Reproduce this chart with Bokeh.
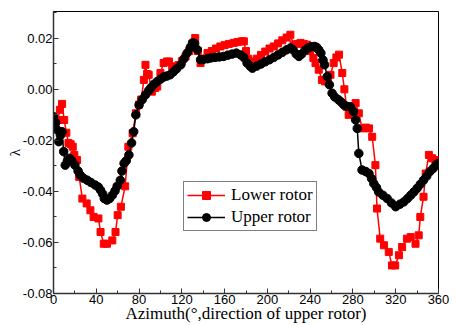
from bokeh.plotting import figure
from bokeh.models import FixedTicker, PrintfTickFormatter, Legend, LegendItem
from bokeh.embed import file_html
from bokeh.resources import INLINE

# ---- data ----
lower_az = [0, 2, 4, 6, 8, 10, 12, 14, 16, 18, 19.5, 22, 24, 27, 31, 34.5, 37.5, 42, 44, 47, 50, 55, 58, 60, 63, 67,
            70, 74, 77, 80, 82, 84.5, 86, 87.5, 89, 92, 95, 97, 100, 103, 106, 108, 111, 114, 117, 120, 123.5, 127,
            130, 132.5, 135, 137.5, 140, 144, 148, 152, 156, 160, 164, 168.5, 172, 176, 178, 180, 182, 186, 190, 194,
            198, 202, 206, 210, 214, 218, 221.5, 224.5, 228, 231, 234, 237, 240, 243, 245, 248, 251, 254, 256.5, 259,
            262, 264.5, 267, 270, 272, 274, 276, 279, 282.5, 285.5, 288.5, 292, 295, 298, 301, 302.5, 305.5, 309,
            313.5, 316.5, 319.5, 323, 326, 330.5, 334, 338.5, 341.5, 343, 346, 348, 351, 354, 357, 360]
lower_val = [-0.0127, -0.015, -0.012, -0.008, -0.0057, -0.012, -0.017, -0.021, -0.0215, -0.0225, -0.0257, -0.0277,
             -0.0343, -0.0428, -0.0447, -0.0474, -0.050, -0.0506, -0.0559, -0.0605, -0.0605, -0.0592, -0.0559,
             -0.0493, -0.046, -0.038, -0.0225, -0.0172, -0.0094, -0.006, -0.004, 0.0037, 0.0096, 0.006, 0.0057,
             -0.0009, 0.0005, 0.0011, 0.0064, 0.0103, 0.0109, 0.0109, 0.009, 0.0085, 0.0095, 0.011, 0.0129, 0.015,
             0.018, 0.0201, 0.015, 0.0103, 0.012, 0.0142, 0.015, 0.016, 0.0168, 0.0173, 0.0178, 0.0182, 0.0185,
             0.0188, 0.0188, 0.015, 0.012, 0.0109, 0.012, 0.0135, 0.0148, 0.016, 0.0168, 0.018, 0.0192, 0.0203,
             0.0214, 0.0175, 0.0178, 0.0182, 0.0178, 0.0175, 0.015, 0.0123, 0.0103, 0.0077, 0.0037, 0.0031, 0.0045,
             0.0057, 0.0103, 0.0125, 0.0136, 0.0064, 0.0, -0.0068, -0.0100, -0.0080, -0.0054, -0.0094, -0.0153,
             -0.0150, -0.0153, -0.0186, -0.0297, -0.0467, -0.0585, -0.0611, -0.0637, -0.069, -0.069, -0.065,
             -0.0618, -0.0585, -0.0579, -0.0605, -0.0572, -0.050, -0.0421, -0.033, -0.0257, -0.027, -0.0277, -0.029]

upper_az = [0, 2, 3.5, 5, 6.5, 8, 9.5, 11, 13, 15, 17, 20, 23, 25, 28, 31.5, 35, 39, 42, 44, 46, 47.5, 50, 52.5, 55,
            57.5, 59.5, 62.5, 64, 66, 68, 70.5, 73, 75, 77, 80, 83, 86, 89, 91, 94, 97, 100, 103, 106, 109, 112, 115,
            119, 122, 125, 128, 130, 132, 134.5, 137.5, 140, 144, 147, 151, 155, 159, 163, 167, 171, 175, 178, 181,
            184, 186, 190, 194, 198, 202, 206, 210, 214, 218, 221.5, 224, 227, 229.5, 232, 235, 238, 241, 244, 246,
            248, 250, 252, 253.5, 256, 258, 260.5, 263, 266.5, 269, 271.5, 274, 277.5, 280.5, 282.5, 284, 285.5,
            288.5, 292, 295, 297.5, 299.5, 302, 304, 308, 312, 316, 320, 324, 327.5, 331, 334, 337, 340, 343, 346,
            349, 352, 355, 358, 360]
upper_val = [-0.0107, -0.013, -0.0159, -0.0205, -0.018, -0.0166, -0.0244, -0.0297, -0.028, -0.027, -0.028, -0.0297,
             -0.032, -0.0336, -0.0348, -0.0356, -0.0365, -0.0375, -0.0383, -0.0395, -0.041, -0.0428, -0.0434,
             -0.0428, -0.0415, -0.0398, -0.038, -0.0356, -0.032, -0.029, -0.028, -0.0257, -0.021, -0.0166, -0.010,
             -0.0061, -0.004, -0.0022, -0.0005, 0.0006, 0.002, 0.0031, 0.004, 0.0048, 0.0052, 0.0057, 0.0068, 0.008,
             0.0096, 0.012, 0.0142, 0.0165, 0.0182, 0.018, 0.0155, 0.0116, 0.0117, 0.012, 0.0123, 0.0125, 0.0127,
             0.0129, 0.0134, 0.0138, 0.0142, 0.0135, 0.0125, 0.0103, 0.009, 0.0083, 0.0091, 0.0099, 0.0108, 0.0116,
             0.0125, 0.0135, 0.0145, 0.0155, 0.0162, 0.0155, 0.0138, 0.0129, 0.0138, 0.0152, 0.0162, 0.0167, 0.0168,
             0.0165, 0.0155, 0.0142, 0.0115, 0.0096, 0.005, 0.0018, -0.0015, -0.003, -0.0041, -0.005, -0.0061,
             -0.0066, -0.0068, -0.0087, -0.012, -0.0153, -0.0251, -0.0316, -0.0322, -0.033, -0.035, -0.0369,
             -0.0385, -0.0402, -0.0415, -0.0428, -0.0445, -0.046, -0.045, -0.0441, -0.0428, -0.0415, -0.0402,
             -0.0388, -0.0372, -0.0356, -0.034, -0.0322, -0.031, -0.0295, -0.029]

x_ticks = [0, 40, 80, 120, 160, 200, 240, 280, 320, 360]
x_minor = [20, 60, 100, 140, 180, 220, 260, 300, 340]
y_ticks = [-0.08, -0.06, -0.04, -0.02, 0.0, 0.02]
y_minor = [-0.07, -0.05, -0.03, -0.01, 0.01, 0.03]

series_names = ["Lower rotor", "Upper rotor"]

p = figure(width=456, height=325, output_backend="svg", toolbar_location=None,
           x_range=(0, 360), y_range=(-0.08, 0.0305),
           min_border_left=53, min_border_right=18, min_border_top=11, min_border_bottom=32)
p.grid.visible = False
p.outline_line_color = "black"
p.outline_line_width = 1
p.background_fill_color = "white"
p.border_fill_color = "white"

r1 = p.line(lower_az, lower_val, line_color="#ff0000", line_width=1.5)
r1m = p.scatter(lower_az, lower_val, marker="square", size=7, fill_color="#ff0000", line_color="#ff0000")
r2 = p.line(upper_az, upper_val, line_color="black", line_width=1.5)
r2m = p.scatter(upper_az, upper_val, marker="circle", size=8.5, fill_color="black", line_color="black")

for ax in (p.xaxis[0], p.yaxis[0]):
    ax.major_tick_in = 5
    ax.major_tick_out = 0
    ax.minor_tick_in = 3
    ax.minor_tick_out = 0
    ax.axis_line_width = 1.5
    ax.axis_line_color = "#333333"
    ax.major_tick_line_color = "#333333"
    ax.minor_tick_line_color = "#333333"
    ax.major_label_text_font = "Liberation Sans"
    ax.major_label_text_font_size = "13px"
    ax.major_label_text_color = "black"
    ax.axis_label_text_font = "Liberation Serif"
    ax.axis_label_text_font_style = "normal"
    ax.axis_label_text_color = "black"
    ax.major_label_standoff = 1

p.xaxis.ticker = FixedTicker(ticks=x_ticks, minor_ticks=x_minor)
p.yaxis.ticker = FixedTicker(ticks=y_ticks, minor_ticks=y_minor)
p.yaxis.formatter = PrintfTickFormatter(format="%.2f")
p.xaxis.axis_label = "Azimuth(°,direction of upper rotor)"
p.xaxis.axis_label_text_font_size = "17px"
p.xaxis.axis_label_standoff = -3
p.yaxis.axis_label = "λ"
p.yaxis.axis_label_text_font_size = "15px"
p.yaxis.axis_label_standoff = -3

legend = Legend(items=[LegendItem(label=series_names[0], renderers=[r1, r1m]),
                       LegendItem(label=series_names[1], renderers=[r2, r2m])],
                location=(130, 62))
legend.label_text_font = "Liberation Serif"
legend.label_text_font_size = "17px"
legend.label_text_color = "black"
legend.glyph_width = 38
legend.glyph_height = 20
legend.label_height = 20
legend.label_standoff = 6
legend.spacing = 2
legend.padding = 3
legend.margin = 0
legend.border_line_color = "black"
legend.border_line_width = 1
legend.background_fill_alpha = 1
p.add_layout(legend, "center")

open("out.html", "w").write(file_html(p, INLINE))
